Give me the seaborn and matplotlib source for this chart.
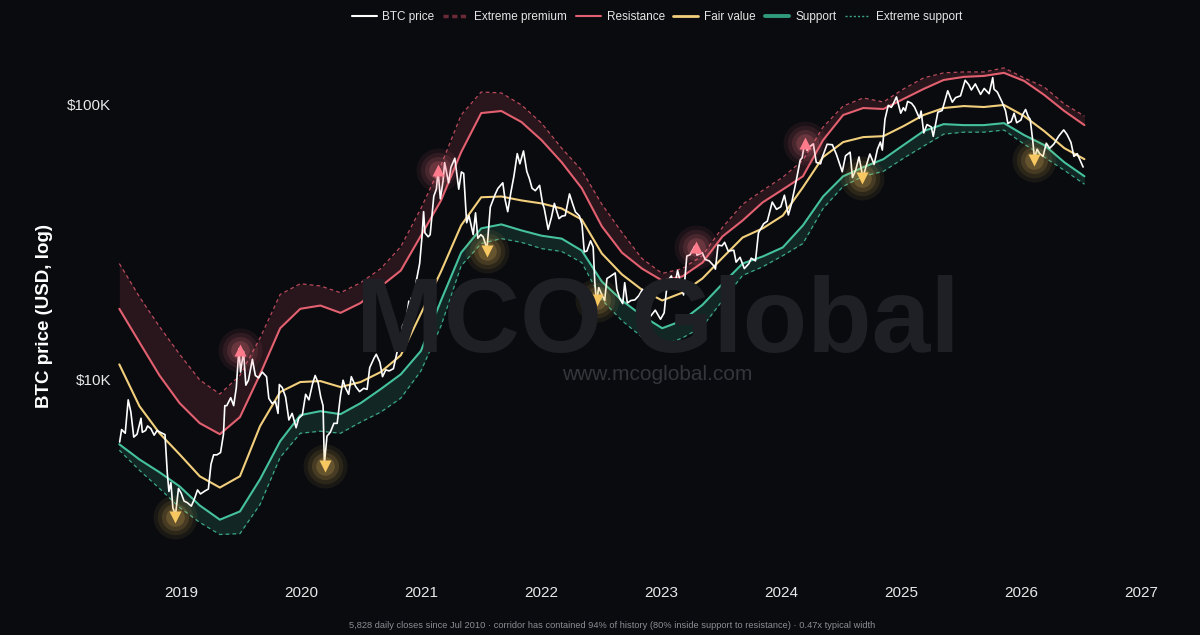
# %% imports
import pandas as pd
import seaborn as sns
import matplotlib.pyplot as plt
from matplotlib.lines import Line2D

# %% band values (USD), every ~2 months
band_dates = pd.date_range("2018-06-27", "2026-07-12", periods=49)

extreme_premium = [26300, 19900, 15500, 12300, 9920, 8820, 10300, 14100, 20300, 22200,
                   21800, 20600, 22400, 25200, 30300, 41700, 59900, 91200, 110600, 109700,
                   99200, 85200, 69100, 57400, 43200, 34100, 27400, 24200, 25200, 28100,
                   35600, 43200, 48500, 54200, 62500, 82400, 98300, 105200, 101700, 113400,
                   124400, 129800, 130800, 130800, 135300, 124400, 115300, 100000, 90400]
resistance = [18000, 13600, 10300, 8170, 6910, 6300, 7270, 10400, 15300, 18000,
              18500, 17400, 18900, 21700, 24800, 33200, 44600, 66800, 92700, 94300,
              86000, 73900, 61400, 49400, 35900, 28800, 25200, 22800, 23600, 26500,
              33000, 37700, 43900, 48900, 54600, 73900, 91200, 96700, 95900, 104300,
              113400, 122300, 125500, 126500, 129800, 121300, 107900, 94300, 83800]
fair_value = [11300, 7970, 6350, 5320, 4430, 4030, 4430, 6740, 8970, 9750,
              9830, 9350, 9750, 10600, 12200, 17300, 24600, 36200, 45800, 46100,
              44600, 43500, 41700, 38000, 28600, 24000, 21100, 19300, 20600, 23200,
              27600, 32700, 35300, 39300, 49800, 64100, 72700, 75800, 76400, 83100,
              91200, 96700, 98300, 97500, 99200, 90400, 79700, 69100, 63000]
support = [5790, 5100, 4580, 4070, 3470, 3080, 3300, 4320, 5940, 7390,
           7640, 7450, 8170, 9190, 10400, 12650, 19300, 28800, 35300, 36500,
           34700, 33200, 32400, 29300, 22600, 19300, 17000, 15300, 16300, 18600,
           22200, 26300, 27900, 30100, 36200, 46100, 54600, 58900, 63000, 70900,
           79700, 84500, 83800, 83800, 85200, 77100, 70900, 61400, 54600]
extreme_support = [5510, 4660, 4000, 3410, 3010, 2720, 2740, 3500, 5190, 6350,
                   6460, 6350, 6970, 7580, 8520, 10700, 15600, 25800, 31100, 32400,
                   31400, 29800, 29100, 26500, 19400, 16300, 14200, 13200, 14100, 15500,
                   19300, 23800, 25600, 28100, 31100, 41700, 50200, 54600, 56900, 63500,
                   70300, 77700, 79000, 79000, 80400, 71500, 64100, 57400, 51100]

# %% BTC closes (USD)
price_points = [
    ("2018-06-28", 5900), ("2018-07-04", 6550), ("2018-07-15", 6350), ("2018-07-24", 8400),
    ("2018-08-01", 7600), ("2018-08-10", 6150), ("2018-08-20", 6300), ("2018-09-01", 7200),
    ("2018-09-05", 6400), ("2018-09-15", 6500), ("2018-09-21", 6750), ("2018-10-01", 6600),
    ("2018-10-11", 6250), ("2018-10-20", 6500), ("2018-11-01", 6380), ("2018-11-13", 6280),
    ("2018-11-20", 4550), ("2018-11-25", 3900), ("2018-12-01", 4200), ("2018-12-07", 3400),
    ("2018-12-15", 3200), ("2018-12-24", 4000), ("2019-01-01", 3850), ("2019-01-10", 3600),
    ("2019-01-20", 3550), ("2019-02-01", 3450), ("2019-02-10", 3650), ("2019-02-20", 3950),
    ("2019-03-01", 3820), ("2019-03-15", 3920), ("2019-03-25", 3980), ("2019-04-02", 4900),
    ("2019-04-10", 5300), ("2019-04-20", 5300), ("2019-05-01", 5400), ("2019-05-10", 6300),
    ("2019-05-14", 8000), ("2019-05-20", 8000), ("2019-06-01", 8550), ("2019-06-10", 8000),
    ("2019-06-18", 9300), ("2019-06-26", 12900), ("2019-07-01", 10600), ("2019-07-10", 12600),
    ("2019-07-17", 9500), ("2019-07-25", 9900), ("2019-08-06", 11800), ("2019-08-15", 10300),
    ("2019-08-25", 10100), ("2019-09-05", 10600), ("2019-09-18", 10200), ("2019-09-25", 8500),
    ("2019-10-05", 8150), ("2019-10-15", 8300), ("2019-10-23", 7500), ("2019-10-27", 9550),
    ("2019-11-05", 9300), ("2019-11-15", 8600), ("2019-11-25", 7100), ("2019-12-05", 7500),
    ("2019-12-17", 6650), ("2019-12-25", 7200), ("2020-01-05", 7400), ("2020-01-15", 8800),
    ("2020-01-25", 8400), ("2020-02-05", 9600), ("2020-02-13", 10300), ("2020-02-22", 9700),
    ("2020-03-01", 8600), ("2020-03-08", 8000), ("2020-03-12", 4900), ("2020-03-20", 6200),
    ("2020-03-30", 6400), ("2020-04-10", 6900), ("2020-04-20", 6900), ("2020-04-30", 8700),
    ("2020-05-08", 9900), ("2020-05-15", 9300), ("2020-05-25", 8800), ("2020-06-02", 10200),
    ("2020-06-15", 9400), ("2020-06-27", 9000), ("2020-07-10", 9250), ("2020-07-20", 9170),
    ("2020-07-28", 11000), ("2020-08-10", 11900), ("2020-08-17", 12300), ("2020-08-28", 11500),
    ("2020-09-05", 10200), ("2020-09-15", 10800), ("2020-09-25", 10700), ("2020-10-08", 10900),
    ("2020-10-21", 12800), ("2020-10-31", 13800), ("2020-11-05", 15600), ("2020-11-17", 16700),
    ("2020-11-24", 19200), ("2020-11-26", 17100), ("2020-12-01", 19700), ("2020-12-11", 18000),
    ("2020-12-17", 22800), ("2020-12-27", 26300), ("2021-01-03", 32800), ("2021-01-08", 40600),
    ("2021-01-12", 34000), ("2021-01-22", 32900), ("2021-01-28", 33500), ("2021-02-08", 46200),
    ("2021-02-16", 49100), ("2021-02-21", 57500), ("2021-02-28", 45200), ("2021-03-08", 52300),
    ("2021-03-13", 61200), ("2021-03-25", 51700), ("2021-04-01", 58800), ("2021-04-13", 63500),
    ("2021-04-25", 49000), ("2021-05-03", 56600), ("2021-05-10", 55900), ("2021-05-19", 37000),
    ("2021-05-26", 39300), ("2021-06-08", 33500), ("2021-06-15", 40200), ("2021-06-22", 32500),
    ("2021-07-01", 33500), ("2021-07-08", 32900), ("2021-07-20", 29800), ("2021-07-30", 42200),
    ("2021-08-14", 47000), ("2021-08-22", 49300), ("2021-09-06", 51700), ("2021-09-13", 44900),
    ("2021-09-21", 40600), ("2021-10-01", 48000), ("2021-10-10", 54800), ("2021-10-20", 66000),
    ("2021-10-28", 60600), ("2021-11-08", 67500), ("2021-11-18", 56900), ("2021-11-26", 53500),
    ("2021-12-04", 49400), ("2021-12-14", 48400), ("2021-12-27", 50600), ("2022-01-05", 43500),
    ("2022-01-10", 41800), ("2022-01-22", 35000), ("2022-02-01", 38700), ("2022-02-10", 43500),
    ("2022-02-24", 38300), ("2022-03-05", 39100), ("2022-03-15", 39300), ("2022-03-28", 47100),
    ("2022-04-07", 43200), ("2022-04-15", 40500), ("2022-04-27", 39200), ("2022-05-05", 36500),
    ("2022-05-12", 29000), ("2022-05-20", 29200), ("2022-05-31", 31800), ("2022-06-08", 30200),
    ("2022-06-13", 22500), ("2022-06-18", 19000), ("2022-06-25", 21500), ("2022-07-05", 20200),
    ("2022-07-13", 19300), ("2022-07-20", 23200), ("2022-07-30", 23600), ("2022-08-14", 24300),
    ("2022-08-19", 21200), ("2022-08-28", 19600), ("2022-09-06", 18800), ("2022-09-12", 22400),
    ("2022-09-20", 18900), ("2022-10-01", 19300), ("2022-10-13", 19400), ("2022-10-25", 20100),
    ("2022-11-05", 21200), ("2022-11-09", 15900), ("2022-11-20", 16300), ("2022-12-01", 17000),
    ("2022-12-14", 17800), ("2022-12-30", 16500), ("2023-01-10", 17400), ("2023-01-20", 22700),
    ("2023-02-01", 23700), ("2023-02-10", 21600), ("2023-02-20", 24800), ("2023-03-10", 20200),
    ("2023-03-20", 28000), ("2023-03-30", 28300), ("2023-04-13", 30400), ("2023-04-20", 28200),
    ("2023-05-06", 28800), ("2023-05-15", 27200), ("2023-05-27", 26900), ("2023-06-10", 25800),
    ("2023-06-15", 25100), ("2023-06-23", 30700), ("2023-07-05", 30500), ("2023-07-13", 31400),
    ("2023-07-24", 29200), ("2023-08-10", 29400), ("2023-08-17", 26600), ("2023-08-29", 27700),
    ("2023-09-11", 25200), ("2023-09-25", 26300), ("2023-10-02", 27500), ("2023-10-15", 26900),
    ("2023-10-24", 34000), ("2023-11-09", 36700), ("2023-11-20", 37500), ("2023-12-05", 44000),
    ("2023-12-18", 41400), ("2023-12-31", 42300), ("2024-01-11", 46600), ("2024-01-23", 39500),
    ("2024-02-01", 43100), ("2024-02-15", 51900), ("2024-02-28", 62500), ("2024-03-05", 63800),
    ("2024-03-13", 73100), ("2024-03-20", 67800), ("2024-03-27", 69900), ("2024-04-08", 71600),
    ("2024-04-17", 61300), ("2024-04-30", 60600), ("2024-05-05", 63900), ("2024-05-20", 71400),
    ("2024-06-05", 71100), ("2024-06-18", 65200), ("2024-07-05", 56700), ("2024-07-15", 64800),
    ("2024-07-29", 66800), ("2024-08-05", 54000), ("2024-08-15", 57500), ("2024-08-25", 64200),
    ("2024-09-06", 53900), ("2024-09-15", 59100), ("2024-09-27", 65800), ("2024-10-10", 60300),
    ("2024-10-20", 68400), ("2024-10-29", 72700), ("2024-11-04", 68000), ("2024-11-12", 88000),
    ("2024-11-22", 98900), ("2024-12-01", 97200), ("2024-12-05", 98800), ("2024-12-17", 106100),
    ("2024-12-30", 92600), ("2025-01-07", 96900), ("2025-01-13", 94500), ("2025-01-20", 102200),
    ("2025-02-01", 100600), ("2025-02-10", 97400), ("2025-02-25", 88700), ("2025-03-02", 94300),
    ("2025-03-10", 78500), ("2025-03-20", 84200), ("2025-04-02", 82500), ("2025-04-08", 76300),
    ("2025-04-22", 93400), ("2025-05-05", 94700), ("2025-05-22", 111700), ("2025-06-05", 101600),
    ("2025-06-15", 105500), ("2025-06-30", 107100), ("2025-07-14", 122000), ("2025-07-25", 117600),
    ("2025-08-02", 112500), ("2025-08-14", 118300), ("2025-08-30", 108400), ("2025-09-10", 113900),
    ("2025-09-25", 109000), ("2025-10-06", 124700), ("2025-10-10", 113200), ("2025-10-20", 110500),
    ("2025-11-04", 101300), ("2025-11-14", 94500), ("2025-11-21", 85000), ("2025-12-01", 86300),
    ("2025-12-10", 92500), ("2025-12-18", 85500), ("2025-12-31", 87500), ("2026-01-05", 91500),
    ("2026-01-14", 95500), ("2026-01-22", 90000), ("2026-01-28", 88000), ("2026-02-05", 73000),
    ("2026-02-10", 63500), ("2026-02-18", 68500), ("2026-02-26", 66000), ("2026-03-08", 64500),
    ("2026-03-18", 72000), ("2026-03-28", 69000), ("2026-04-10", 71500), ("2026-04-25", 76500),
    ("2026-05-10", 80500), ("2026-05-20", 77500), ("2026-06-01", 72500), ("2026-06-10", 64500),
    ("2026-06-20", 66000), ("2026-06-30", 62000), ("2026-07-08", 59000),
]

# %% touch markers
premium_touch_dates = ["2019-06-28", "2021-02-21", "2023-04-16", "2024-03-14"]
premium_touch_usd = [12700, 57400, 30100, 72000]
support_touch_dates = ["2018-12-13", "2020-03-14", "2021-07-20", "2022-06-20", "2024-09-04", "2026-02-10"]
support_touch_usd = [3160, 4810, 29300, 19300, 53700, 62500]

year_ticks = [2019, 2020, 2021, 2022, 2023, 2024, 2025, 2026, 2027]
price_ticks = [10000, 100000]
price_tick_labels = ["$10K", "$100K"]

footer = ("5,828 daily closes since Jul 2010 \u00b7 corridor has contained 94% of history "
          "(80% inside support to resistance) \u00b7 0.47x typical width")

# %% frames
bands = pd.DataFrame({
    "date": band_dates,
    "extreme_premium": extreme_premium,
    "resistance": resistance,
    "fair_value": fair_value,
    "support": support,
    "extreme_support": extreme_support,
})
prices = pd.DataFrame(price_points, columns=["date", "usd"])
prices["date"] = pd.to_datetime(prices["date"])

# %% style
BG = "#0a0b0f"
C_RES = "#e2606f"
C_PREM = "#b94a5c"
C_FAIR = "#f2cf7c"
C_SUP = "#45c29d"
C_ESUP = "#3aa688"
C_UP = "#ff7b8b"
C_DOWN = "#f7c861"

sns.set_theme(style="dark", rc={
    "figure.facecolor": BG,
    "axes.facecolor": BG,
    "savefig.facecolor": BG,
    "text.color": "#e8e8e8",
    "xtick.color": "#e8e8e8",
    "ytick.color": "#e8e8e8",
    "axes.grid": False,
})
plt.rcParams["font.family"] = ["Liberation Sans", "DejaVu Sans"]

fig = plt.figure(figsize=(12, 6.35), dpi=100)
ax = fig.add_axes([118 / 1200, 1 - 575 / 635, 1042 / 1200, 535 / 635])
ax.set_yscale("log")

# watermark behind everything
fig.text(658 / 1200, 1 - 352 / 635, "MCO Global", fontsize=76, fontweight="bold",
         color="#1f2025", ha="center", va="baseline", zorder=0)
fig.text(657 / 1200, 1 - 374 / 635, "www.mcoglobal.com", fontsize=15,
         color="#35363b", ha="center", va="center", zorder=0)
ax.patch.set_alpha(0)

# corridor fills
ax.fill_between(bands["date"], bands["resistance"], bands["extreme_premium"],
                color=C_RES, alpha=0.14, linewidth=0, zorder=1)
ax.fill_between(bands["date"], bands["extreme_support"], bands["support"],
                color=C_SUP, alpha=0.15, linewidth=0, zorder=1)

# corridor lines
sns.lineplot(data=bands, x="date", y="extreme_premium", ax=ax, color=C_PREM,
             lw=0.9, zorder=2).lines[-1].set_dashes((3, 2.5))
sns.lineplot(data=bands, x="date", y="resistance", ax=ax, color=C_RES, lw=1.5, zorder=2)
sns.lineplot(data=bands, x="date", y="fair_value", ax=ax, color=C_FAIR, lw=1.5, zorder=2)
sns.lineplot(data=bands, x="date", y="support", ax=ax, color=C_SUP, lw=1.5, zorder=2)
sns.lineplot(data=bands, x="date", y="extreme_support", ax=ax, color=C_ESUP,
             lw=0.9, zorder=2).lines[-1].set_dashes((3, 2.5))

# price
sns.lineplot(data=prices, x="date", y="usd", ax=ax, color="white", lw=1.2, zorder=4)

# glowing touch markers
up_x = pd.to_datetime(premium_touch_dates)
down_x = pd.to_datetime(support_touch_dates)
for s, a in [(1000, 0.07), (650, 0.09), (380, 0.13), (180, 0.18)]:
    ax.scatter(up_x, premium_touch_usd, s=s, color=C_UP, alpha=a, linewidths=0, zorder=5)
    ax.scatter(down_x, support_touch_usd, s=s, color=C_DOWN, alpha=a, linewidths=0, zorder=5)
ax.scatter(up_x, premium_touch_usd, s=75, marker="^", color=C_UP, linewidths=0, zorder=6)
ax.scatter(down_x, support_touch_usd, s=75, marker="v", color=C_DOWN, linewidths=0, zorder=6)

# axes
ax.set_xlim(pd.Timestamp("2018-06-23"), pd.Timestamp("2027-02-27"))
ax.set_ylim(1938, 170900)
ax.set_xticks([pd.Timestamp(f"{y}-01-01") for y in year_ticks])
ax.set_xticklabels([str(y) for y in year_ticks], fontsize=11)
ax.set_yticks(price_ticks)
ax.set_yticklabels(price_tick_labels, fontsize=11)
ax.yaxis.set_minor_locator(plt.NullLocator())
ax.tick_params(axis="both", length=0)
ax.tick_params(axis="x", pad=8)
ax.tick_params(axis="y", pad=5)
ax.set_xlabel("")
ax.set_ylabel("")
for sp in ax.spines.values():
    sp.set_visible(False)

fig.text(45 / 1200, 1 - 316 / 635, "BTC price (USD, log)", rotation=90, fontsize=13.5,
         fontweight="bold", color="white", ha="center", va="center")

# legend
handles = [
    Line2D([], [], color="white", lw=1.5),
    Line2D([], [], color="#6a2b37", lw=2.5, dashes=(1.5, 1)),
    Line2D([], [], color=C_RES, lw=1.5),
    Line2D([], [], color=C_FAIR, lw=2),
    Line2D([], [], color="#2f9a7c", lw=2.8),
    Line2D([], [], color=C_ESUP, lw=1, dashes=(1.5, 1.5)),
]
labels = ["BTC price", "Extreme premium", "Resistance", "Fair value", "Support", "Extreme support"]
fig.legend(handles, labels, loc="center", bbox_to_anchor=(657 / 1200, 1 - 17 / 635), ncol=6,
           frameon=False, fontsize=8.5, handlelength=2.1, handletextpad=0.5,
           columnspacing=0.75, labelcolor="#e6e6e6")

fig.text(612 / 1200, 1 - 626 / 635, footer, fontsize=6.7,
         family=["Liberation Sans Narrow", "Liberation Sans"], color="#8a8d94",
         ha="center", va="center")

fig.savefig("out.png", dpi=100, facecolor=BG)
